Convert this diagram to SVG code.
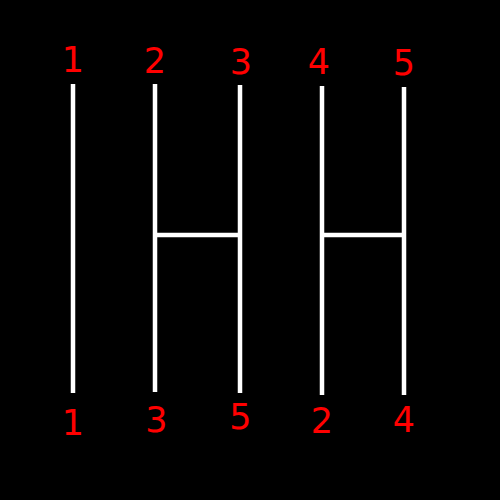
<svg xmlns="http://www.w3.org/2000/svg" width="500" height="500" viewBox="0 0 500 500">
<style>
.bar{stroke:#fff;stroke-width:4.5;fill:none}
.lbl{fill:#ff0000;font-family:"DejaVu Sans",sans-serif;font-size:35px;text-anchor:middle}
</style>
<rect width="500" height="500" fill="#000"/>
<g id="connectors">
<line class="bar" x1="73" y1="84" x2="73" y2="393"/>
<line class="bar" x1="155" y1="84" x2="155" y2="392"/>
<line class="bar" x1="240" y1="85" x2="240" y2="393"/>
<line class="bar" x1="322" y1="86" x2="322" y2="395"/>
<line class="bar" x1="404" y1="87" x2="404" y2="395"/>
<line class="bar" x1="155" y1="235" x2="240" y2="235"/>
<line class="bar" x1="322" y1="235" x2="404" y2="235"/>
</g>
<g id="top1"><text class="lbl" x="73" y="72">1</text></g>
<g id="top2"><text class="lbl" x="155" y="72.5">2</text></g>
<g id="top3"><text class="lbl" x="241" y="74">3</text></g>
<g id="top4"><text class="lbl" x="319" y="74">4</text></g>
<g id="top5"><text class="lbl" x="404" y="75">5</text></g>
<g id="bot1"><text class="lbl" x="73" y="435">1</text></g>
<g id="bot3"><text class="lbl" x="156.5" y="432">3</text></g>
<g id="bot5"><text class="lbl" x="240.5" y="429">5</text></g>
<g id="bot2"><text class="lbl" x="322" y="432.5">2</text></g>
<g id="bot4"><text class="lbl" x="404" y="432">4</text></g>
</svg>
